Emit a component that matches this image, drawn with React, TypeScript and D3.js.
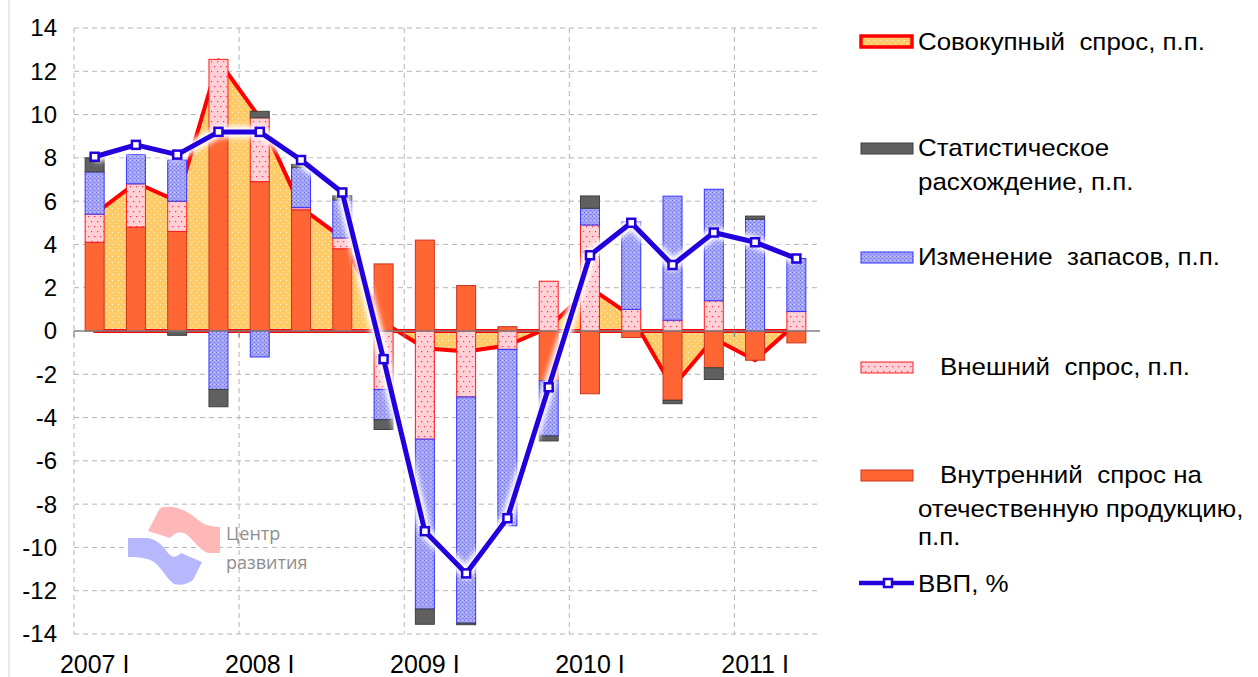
import React, { useRef, useEffect } from "react";
import * as d3 from "d3";

// quarters 2007 I .. 2011 II
const quarters = [
  "2007 I", "2007 II", "2007 III", "2007 IV",
  "2008 I", "2008 II", "2008 III", "2008 IV",
  "2009 I", "2009 II", "2009 III", "2009 IV",
  "2010 I", "2010 II", "2010 III", "2010 IV",
  "2011 I", "2011 II",
];
const yearTicks = ["2007 I", "2008 I", "2009 I", "2010 I", "2011 I"];
const yTicks = [-14, -12, -10, -8, -6, -4, -2, 0, 2, 4, 6, 8, 10, 12, 14];

// contributions, p.p.
const domestic = [4.1, 4.8, 4.6, 9.2, 6.9, 5.6, 3.8, 3.1, 4.2, 2.1, 0.2, -2.3, -2.9, -0.3, -3.2, -1.7, -1.35, -0.55];
const external = [1.3, 2.0, 1.4, 3.35, 2.95, 0.1, 0.5, -2.7, -5.0, -3.05, -0.85, 2.3, 4.9, 1.0, 0.5, 1.4, 0.0, 0.9];
const inventory = [1.95, 1.35, 1.9, -2.7, -1.2, 1.85, 1.75, -1.4, -7.85, -10.45, -8.15, -2.55, 0.77, 4.05, 5.73, 5.15, 5.16, 2.45];
const discrepancy = [0.65, 0, -0.2, -0.8, 0.3, 0.15, 0.2, -0.45, -0.7, -0.07, 0, -0.23, 0.57, 0, -0.16, -0.54, 0.15, 0];
const aggregate = [5.4, 6.85, 6.0, 12.5, 9.85, 5.7, 4.3, 0.4, -0.8, -0.95, -0.67, 0.15, 2.0, 0.7, -2.6, -0.35, -1.35, 0.35];
const gdp = [8.05, 8.6, 8.15, 9.2, 9.2, 7.9, 6.4, -1.3, -9.25, -11.2, -8.65, -2.6, 3.5, 5.0, 3.05, 4.55, 4.1, 3.35];

const W = 1258;
const H = 677;
const FONT = "'Liberation Sans', Arial, sans-serif";

const seriesStyle: Record<string, { fill: string; stroke: string }> = {
  domestic: { fill: "#ff6633", stroke: "#cc3322" },
  external: { fill: "url(#pExt)", stroke: "#ff1a1a" },
  inventory: { fill: "url(#pInv)", stroke: "#3333ff" },
  discrepancy: { fill: "#606060", stroke: "#404040" },
};

export default function App() {
  const svgRef = useRef<SVGSVGElement>(null);

  useEffect(() => {
    if (!svgRef.current) return;
    const svg = d3.select(svgRef.current);
    svg.selectAll("*").remove();

    const x = d3
      .scaleBand<string>()
      .domain(quarters)
      .range([74, 817])
      .paddingInner(0.54)
      .paddingOuter(0.27);
    const y = d3.scaleLinear().domain([-14, 14]).range([634, 28]);
    const bw = x.bandwidth();
    const step = x.step();
    const cx = (q: string) => (x(q) ?? 0) + bw / 2;
    const bandStart = (q: string) => (x(q) ?? 0) - (step - bw) / 2;

    // patterns
    const defs = svg.append("defs");
    const pExt = defs.append("pattern").attr("id", "pExt").attr("patternUnits", "userSpaceOnUse")
      .attr("width", 6).attr("height", 10);
    pExt.append("rect").attr("width", 6).attr("height", 10).attr("fill", "#ffd0d4");
    pExt.append("rect").attr("x", 1).attr("y", 1).attr("width", 1.2).attr("height", 1.2).attr("fill", "#ff2a6a");
    pExt.append("rect").attr("x", 4).attr("y", 6).attr("width", 1.2).attr("height", 1.2).attr("fill", "#ff2a6a");

    const pInv = defs.append("pattern").attr("id", "pInv").attr("patternUnits", "userSpaceOnUse")
      .attr("width", 4).attr("height", 4);
    pInv.append("rect").attr("width", 4).attr("height", 4).attr("fill", "#a4a4f6");
    pInv.append("rect").attr("x", 0).attr("y", 0).attr("width", 1).attr("height", 1).attr("fill", "#6f6fe8");
    pInv.append("rect").attr("x", 2).attr("y", 2).attr("width", 1).attr("height", 1).attr("fill", "#6f6fe8");
    pInv.append("rect").attr("x", 2).attr("y", 0).attr("width", 1).attr("height", 1).attr("fill", "#d8d8ff");

    const pArea = defs.append("pattern").attr("id", "pArea").attr("patternUnits", "userSpaceOnUse")
      .attr("width", 6).attr("height", 6);
    pArea.append("rect").attr("width", 6).attr("height", 6).attr("fill", "#ffca68");
    pArea.append("rect").attr("x", 1).attr("y", 1).attr("width", 1).attr("height", 1).attr("fill", "#fff6e0");
    pArea.append("rect").attr("x", 4).attr("y", 4).attr("width", 1).attr("height", 1).attr("fill", "#fff6e0");

    const glow = defs.append("filter").attr("id", "glow").attr("x", "-10%").attr("y", "-10%")
      .attr("width", "120%").attr("height", "120%");
    glow.append("feGaussianBlur").attr("stdDeviation", 2.6);

    // frame line on the far left
    svg.append("line").attr("x1", 9).attr("x2", 9).attr("y1", 0).attr("y2", H)
      .attr("stroke", "#d4d4d4").attr("stroke-width", 1);

    // grid
    const grid = svg.append("g");
    grid.selectAll("line.h")
      .data(yTicks.filter((t) => t !== 0))
      .join("line")
      .attr("x1", 74).attr("x2", 818)
      .attr("y1", (d) => y(d)).attr("y2", (d) => y(d))
      .attr("stroke", "#b5b5b5").attr("stroke-dasharray", "5,4").attr("stroke-width", 1);
    grid.selectAll("line.v")
      .data(yearTicks)
      .join("line")
      .attr("x1", (d) => bandStart(d)).attr("x2", (d) => bandStart(d))
      .attr("y1", y(14)).attr("y2", y(-14))
      .attr("stroke", "#b5b5b5").attr("stroke-dasharray", "5,4").attr("stroke-width", 1);

    // watermark
    const wm = svg.append("g");
    wm.append("path")
      .attr("d", "M148,531 L160,508 C170,505 182,508 192,515 C200,522 206,527 220,527 L220,553 L208,553 C198,549 194,540 186,534 C180,531 174,533 170,538 Z")
      .attr("fill", "#ffb8b8");
    wm.append("path")
      .attr("d", "M128,538 L148,538 C158,540 164,547 168,553 C172,558 176,558 181,553 L202,562 L193,580 C188,584 180,586 174,584 C166,578 162,568 154,562 C148,558 140,557 128,557 Z")
      .attr("fill", "#b8b8ff");
    wm.append("text").attr("x", 226).attr("y", 540).text("Центр")
      .attr("font-family", "'Open Sans', sans-serif").attr("font-size", 18).attr("fill", "#8e8e8e");
    wm.append("text").attr("x", 226).attr("y", 569).text("развития")
      .attr("font-family", "'Open Sans', sans-serif").attr("font-size", 18).attr("fill", "#8e8e8e");

    // aggregate demand area
    const area = d3.area<number>()
      .x((_, i) => cx(quarters[i]))
      .y0(y(0))
      .y1((d) => y(d));
    svg.append("path")
      .datum(aggregate)
      .attr("d", area)
      .attr("fill", "url(#pArea)")
      .attr("stroke", "#ff0000")
      .attr("stroke-width", 4)
      .attr("stroke-linejoin", "round");

    // stacked bars
    const rows = quarters.map((q, i) => ({
      q,
      domestic: domestic[i],
      external: external[i],
      inventory: inventory[i],
      discrepancy: discrepancy[i],
    }));
    const keys = ["domestic", "external", "inventory", "discrepancy"];
    const stacked = d3.stack<any>().keys(keys).offset(d3.stackOffsetDiverging)(rows);

    stacked.forEach((s) => {
      const st = seriesStyle[s.key];
      svg.append("g")
        .selectAll("rect")
        .data(s.filter((d) => Math.abs(d[1] - d[0]) > 0.001))
        .join("rect")
        .attr("x", (d) => x(d.data.q) ?? 0)
        .attr("width", bw)
        .attr("y", (d) => y(Math.max(d[0], d[1])))
        .attr("height", (d) => Math.abs(y(d[0]) - y(d[1])))
        .attr("fill", st.fill)
        .attr("stroke", st.stroke)
        .attr("stroke-width", 1);
    });

    // zero axis with ticks at year boundaries
    svg.append("line").attr("x1", 74).attr("x2", 820).attr("y1", y(0)).attr("y2", y(0))
      .attr("stroke", "#808080").attr("stroke-width", 1.5);
    svg.append("g").selectAll("line")
      .data(yearTicks)
      .join("line")
      .attr("x1", (d) => bandStart(d)).attr("x2", (d) => bandStart(d))
      .attr("y1", y(0)).attr("y2", y(0) + 6)
      .attr("stroke", "#808080").attr("stroke-width", 1.2);

    // GDP line
    const line = d3.line<number>()
      .x((_, i) => cx(quarters[i]))
      .y((d) => y(d));
    svg.append("path").datum(gdp).attr("d", line)
      .attr("fill", "none").attr("stroke", "#ffffff").attr("stroke-width", 12)
      .attr("stroke-linejoin", "round").attr("filter", "url(#glow)");
    svg.append("path").datum(gdp).attr("d", line)
      .attr("fill", "none").attr("stroke", "#2200dd").attr("stroke-width", 5)
      .attr("stroke-linejoin", "round");
    svg.append("g").selectAll("rect")
      .data(gdp)
      .join("rect")
      .attr("x", (_, i) => cx(quarters[i]) - 4)
      .attr("y", (d) => y(d) - 4)
      .attr("width", 8).attr("height", 8)
      .attr("fill", "#ffffff").attr("stroke", "#2200dd").attr("stroke-width", 2.5);

    // y tick labels
    svg.append("g").selectAll("text")
      .data(yTicks)
      .join("text")
      .attr("x", 57).attr("y", (d) => y(d))
      .attr("dy", "0.35em")
      .attr("text-anchor", "end")
      .attr("font-family", FONT).attr("font-size", 24).attr("fill", "#000")
      .text((d) => String(d));

    // x labels
    svg.append("g").selectAll("text")
      .data(yearTicks)
      .join("text")
      .attr("x", (d) => cx(d)).attr("y", 664)
      .attr("dy", "0.35em")
      .attr("text-anchor", "middle")
      .attr("font-family", FONT).attr("font-size", 25).attr("fill", "#000")
      .text((d) => d);

    // legend
    const lg = svg.append("g");
    lg.append("rect").attr("x", 861).attr("y", 36).attr("width", 51).attr("height", 11)
      .attr("fill", "url(#pArea)").attr("stroke", "#ff0000").attr("stroke-width", 3.5);
    const swatches = [
      { key: "discrepancy", yc: 148 },
      { key: "inventory", yc: 257 },
      { key: "external", yc: 367 },
      { key: "domestic", yc: 475 },
    ];
    swatches.forEach((s) => {
      lg.append("rect").attr("x", 861).attr("y", s.yc - 5).attr("width", 52).attr("height", 11)
        .attr("fill", seriesStyle[s.key].fill).attr("stroke", seriesStyle[s.key].stroke).attr("stroke-width", 1);
    });
    lg.append("line").attr("x1", 859).attr("x2", 914).attr("y1", 583).attr("y2", 583)
      .attr("stroke", "#2200dd").attr("stroke-width", 4.5);
    lg.append("rect").attr("x", 884).attr("y", 579).attr("width", 8).attr("height", 8)
      .attr("fill", "#fff").attr("stroke", "#2200dd").attr("stroke-width", 2.5);

    const texts = [
      { x: 918, y: 42, t: "Совокупный  спрос, п.п." },
      { x: 918, y: 148, t: "Статистическое" },
      { x: 918, y: 182, t: "расхождение, п.п." },
      { x: 918, y: 257, t: "Изменение  запасов, п.п." },
      { x: 940, y: 367, t: "Внешний  спрос, п.п." },
      { x: 940, y: 475, t: "Внутренний  спрос на" },
      { x: 918, y: 509, t: "отечественную продукцию," },
      { x: 918, y: 537, t: "п.п." },
      { x: 918, y: 584, t: "ВВП, %" },
    ];
    // text in the legend is drawn slightly wide, as in the source
    lg.append("g")
      .attr("transform", "translate(918,0) scale(1.08,1) translate(-918,0)")
      .attr("font-family", FONT).attr("font-size", 24).attr("fill", "#000")
      .selectAll("text")
      .data(texts)
      .join("text")
      .attr("x", (d) => 918 + (d.x - 918) / 1.08).attr("y", (d) => d.y)
      .attr("dy", "0.35em")
      .style("white-space", "pre")
      .text((d) => d.t);
  }, []);

  return (
    <svg
      ref={svgRef}
      width={W}
      height={H}
      style={{ position: "absolute", left: 0, top: 0, background: "#fff" }}
    ></svg>
  );
}
